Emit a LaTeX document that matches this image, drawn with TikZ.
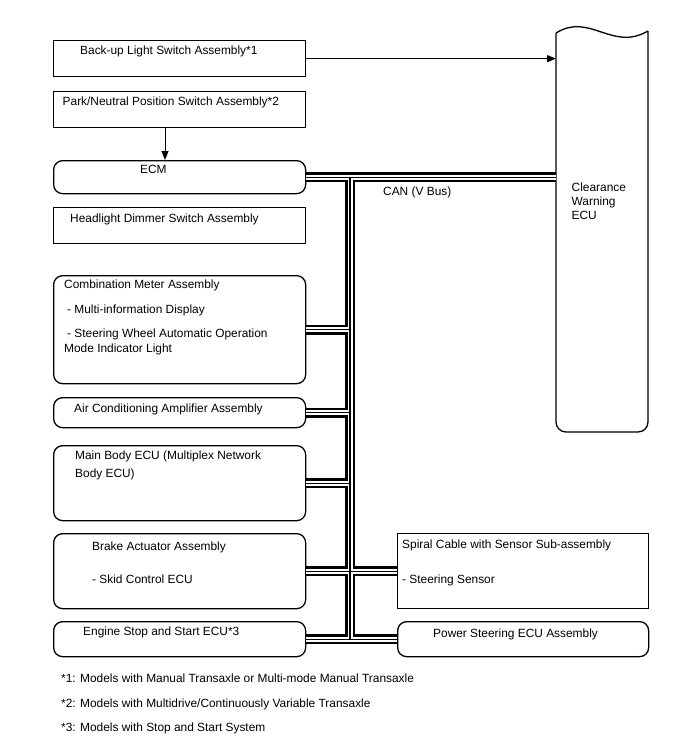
\documentclass[tikz,border=0pt]{standalone}
\usepackage{fontspec}
\setmainfont{Liberation Sans}
\usetikzlibrary{arrows.meta}
\begin{document}
\begin{tikzpicture}[x=1pt,y=-1pt,
  box/.style={draw, line width=1.3pt, minimum width=252pt, anchor=north west, inner sep=0pt},
  rbox/.style={box, rounded corners=9pt},
  lbl/.style={anchor=base west, inner sep=0pt, font=\fontsize{11.9}{13}\selectfont},
  arr/.style={line width=1pt, -{Triangle[length=9pt,width=7pt]}},
]
\useasboundingbox[fill=white] (0,0) rectangle (688,755);

% boxes
\node[box, minimum height=36pt] (bul) at (53,40) {};
\node[box, minimum height=36pt] (pn) at (53,91) {};
\node[rbox, minimum height=33pt] (ecm) at (53,160) {};
\node[box, minimum height=36pt] (hd) at (53,207) {};
\node[rbox, minimum height=108pt] (cm) at (53,275) {};
\node[rbox, minimum height=30pt] (ac) at (53,397) {};
\node[rbox, minimum height=75pt] (mb) at (53,445) {};
\node[rbox, minimum height=75pt] (ba) at (53,533) {};
\node[rbox, minimum height=35pt] (es) at (53,621) {};
\node[box, minimum width=251pt, minimum height=75pt] (sc) at (397,533) {};
\node[rbox, minimum width=251pt, minimum height=35pt] (ps) at (397,621) {};

% Clearance Warning ECU
\coordinate (cw) at (556,33);
\coordinate (cwr) at (648,31);
\draw[line width=1.3pt, rounded corners=10pt] (cw) -- (556,432) -- (648,432) -- (cwr);
\draw[line width=1.3pt] (cw) .. controls (590,12) and (612,52) .. (cwr);

% labels
\node[lbl] (t1) at (80,54) {Back-up Light Switch Assembly*1};
\node[lbl] (t2) at (62.5,105) {Park/Neutral Position Switch Assembly*2};
\node[lbl] (t3) at (140,173.5) {ECM};
\node[lbl] (t4) at (70,222.5) {Headlight Dimmer Switch Assembly};
\node[lbl] (t5) at (64,288.5) {Combination Meter Assembly};
\node[lbl] (t6) at (67,313.5) {- Multi-information Display};
\node[lbl] (t7) at (67,337.5) {- Steering Wheel Automatic Operation};
\node[lbl] (t8) at (64,352.5) {Mode Indicator Light};
\node[lbl] (t9) at (74,412.5) {Air Conditioning Amplifier Assembly};
\node[lbl] (t10) at (75,459.5) {Main Body ECU (Multiplex Network};
\node[lbl] (t11) at (75,477.5) {Body ECU)};
\node[lbl] (t12) at (92,550.5) {Brake Actuator Assembly};
\node[lbl] (t13) at (92,583.5) {- Skid Control ECU};
\node[lbl] (t14) at (83,635.5) {Engine Stop and Start ECU*3};
\node[lbl] (t15) at (402,548.5) {Spiral Cable with Sensor Sub-assembly};
\node[lbl] (t16) at (402,583.5) {- Steering Sensor};
\node[lbl] (t17) at (433,637.5) {Power Steering ECU Assembly};
\node[lbl] (t18) at (571.5,191.5) {Clearance};
\node[lbl] (t19) at (571.5,205.5) {Warning};
\node[lbl] (t20) at (571.5,219.5) {ECU};
\node[lbl] (can) at (383,195.5) {CAN (V Bus)};
\node[lbl] (f1) at (61,682.5) {*1: Models with Manual Transaxle or Multi-mode Manual Transaxle};
\node[lbl] (f2) at (61,707.5) {*2: Models with Multidrive/Continuously Variable Transaxle};
\node[lbl] (f3) at (61,731.5) {*3: Models with Stop and Start System};

% arrows
\draw[arr] (bul.east) -- (bul.east -| cw);
\draw[arr] (pn.south -| 165,0) -- (ecm.north -| 165,0);

% CAN bus
\coordinate (tr) at (350,0);
\def\canbus{(ecm.east) -- (ecm.east -| cw)
  (tr |- ecm.east) -- (tr |- es.east)
  (cm.east) -- (tr |- cm.east)
  (ac.east) -- (tr |- ac.east)
  (mb.east) -- (tr |- mb.east)
  (ba.east) -- (sc.west)
  (es.east) -- (ps.west)}
\draw[line width=10pt] \canbus;
\draw[white, line width=5pt] \canbus;
\draw[line width=1.2pt] \canbus;
\end{tikzpicture}
\end{document}
